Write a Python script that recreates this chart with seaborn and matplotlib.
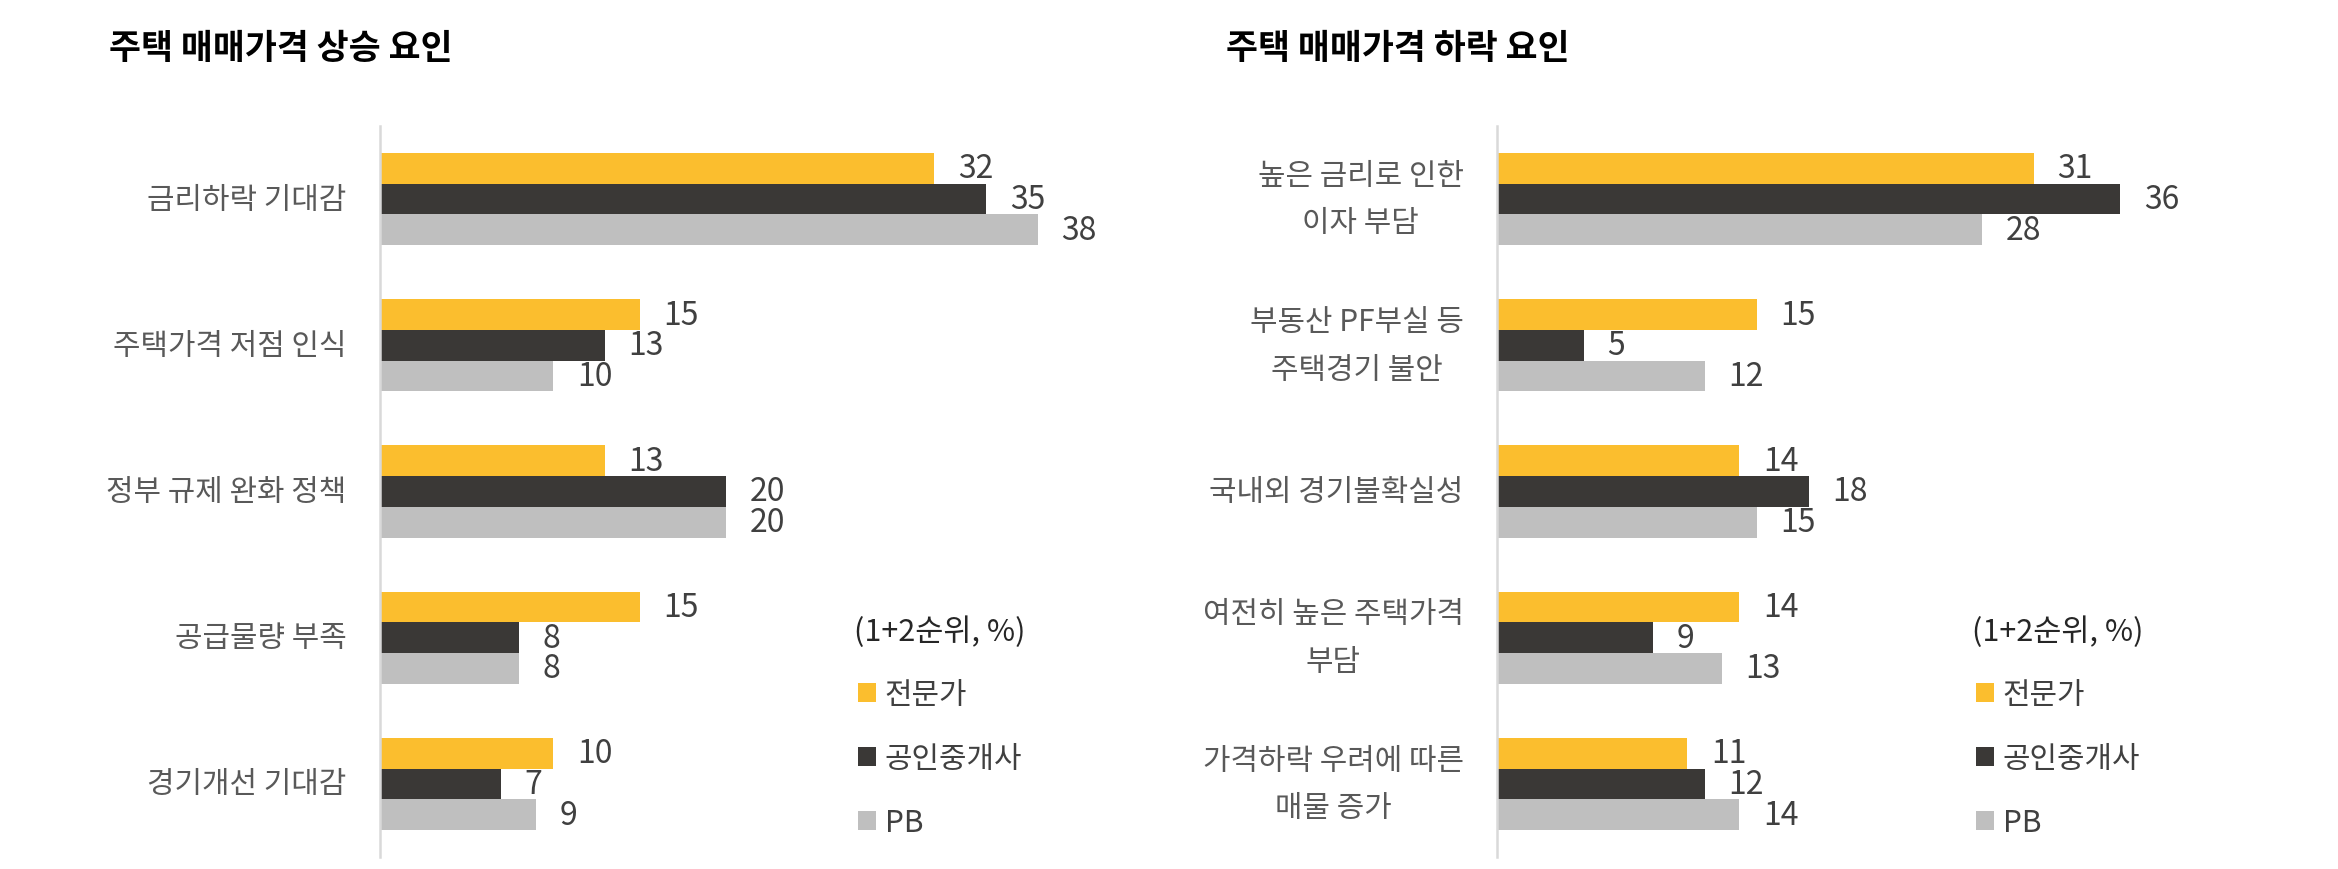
import pandas as pd
import matplotlib
matplotlib.use("Agg")
import matplotlib.pyplot as plt
import seaborn as sns

# data (1+2순위, %)
groups = ['전문가', '공인중개사', 'PB']
colors = ['#FBBE2E', '#3A3836', '#BFBFBF']

cats_up = ['금리하락 기대감', '주택가격 저점 인식', '정부 규제 완화 정책', '공급물량 부족', '경기개선 기대감']
expert_up = [32, 15, 13, 15, 10]
agent_up = [35, 13, 20, 8, 7]
pb_up = [38, 10, 20, 8, 9]

cats_down = ['높은 금리로 인한\n이자 부담', '부동산 PF부실 등\n주택경기 불안', '국내외 경기불확실성',
             '여전히 높은 주택가격\n부담', '가격하락 우려에 따른\n매물 증가']
expert_down = [31, 15, 14, 14, 11]
agent_down = [36, 5, 18, 9, 12]
pb_down = [28, 12, 15, 13, 14]

title_up = '주택 매매가격 상승 요인'
title_down = '주택 매매가격 하락 요인'
note = '(1+2순위, %)'


def to_long(cats, *series):
    rows = []
    for g, vals in zip(groups, series):
        for c, v in zip(cats, vals):
            rows.append({'factor': c, 'group': g, 'value': v})
    return pd.DataFrame(rows)


df_up = to_long(cats_up, expert_up, agent_up, pb_up)
df_down = to_long(cats_down, expert_down, agent_down, pb_down)

sns.set_theme(style='white')
plt.rcParams['font.family'] = ['Noto Sans CJK KR', 'DejaVu Sans']

W, H = 2338, 870
fig = plt.figure(figsize=(W / 100, H / 100), dpi=100)

# axes placed in pixel terms, converted to figure fractions
ax_top, ax_bot = 127, 858
ax1 = fig.add_axes([380 / W, 1 - ax_bot / H, 800 / W, (ax_bot - ax_top) / H])
ax2 = fig.add_axes([1497 / W, 1 - ax_bot / H, 800 / W, (ax_bot - ax_top) / H])


def draw(ax, df, cats, legend_x):
    sns.barplot(data=df, x='value', y='factor', hue='group', hue_order=groups,
                order=cats, palette=colors, saturation=1, width=0.63,
                linewidth=0, ax=ax)
    for cont in ax.containers:
        ax.bar_label(cont, padding=17, fontsize=23, color='#404040')
    ax.set_xlim(0, 46.2)
    ax.set_ylim(4.5, -0.5)
    ax.set_xticks([])
    ax.set_xlabel('')
    ax.set_ylabel('')
    for s in ['top', 'right', 'bottom']:
        ax.spines[s].set_visible(False)
    ax.spines['left'].set_color('#D9D9D9')
    ax.spines['left'].set_linewidth(1.8)
    ax.tick_params(axis='y', length=0, pad=24, labelsize=21.5, labelcolor='#595959')
    for t in ax.get_yticklabels():
        t.set_multialignment('center')
        t.set_linespacing(1.7)
        t.set_va('center')
    sns.move_legend(ax, 'upper center', bbox_to_anchor=(legend_x / W, 1 - 601 / H),
                    bbox_transform=fig.transFigure, title=note, frameon=False,
                    fontsize=21.5, title_fontsize=22, handlelength=0.6,
                    handleheight=0.6, handletextpad=0.3, labelspacing=1.1,
                    borderpad=0)
    leg = ax.get_legend()
    for t in leg.get_texts():
        t.set_color('#404040')
    leg.get_title().set_color('#262626')


draw(ax1, df_up, cats_up, 940)
draw(ax2, df_down, cats_down, 2058)

fig.text(109 / W, 1 - 48 / H, title_up, fontsize=25, fontweight='bold', va='center', color='black')
fig.text(1226 / W, 1 - 48 / H, title_down, fontsize=25, fontweight='bold', va='center', color='black')

fig.savefig('out.png', dpi=100, facecolor='white')
